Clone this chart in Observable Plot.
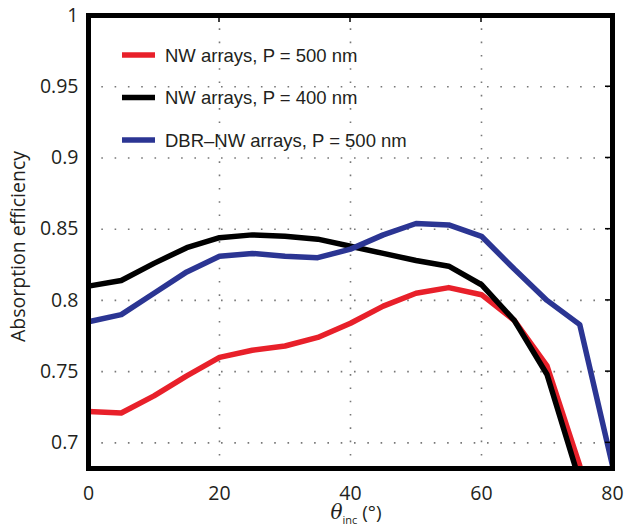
<!DOCTYPE html>
<html>
<head>
<meta charset="utf-8">
<script src="https://cdn.jsdelivr.net/npm/d3@7"></script>
<script src="https://cdn.jsdelivr.net/npm/@observablehq/plot@0.6"></script>
<style>
  html, body { margin: 0; padding: 0; background: #fff; }
</style>
</head>
<body>
<div id="chart"></div>
<script>
const angles = [0, 5, 10, 15, 20, 25, 30, 35, 40, 45, 50, 55, 60, 65, 70, 75, 80];
const redNW500 = [0.722, 0.721, 0.733, 0.747, 0.760, 0.765, 0.768, 0.774, 0.784, 0.796, 0.805, 0.809, 0.804, 0.786, 0.754, 0.684];
const blackNW400 = [0.810, 0.814, 0.826, 0.837, 0.844, 0.846, 0.845, 0.843, 0.838, 0.833, 0.828, 0.824, 0.811, 0.786, 0.748, 0.673];
const blueDBR500 = [0.785, 0.790, 0.805, 0.820, 0.831, 0.833, 0.831, 0.830, 0.836, 0.846, 0.854, 0.853, 0.845, 0.822, 0.800, 0.783, 0.684];

const seriesNames = ["NW arrays, P = 500 nm", "NW arrays, P = 400 nm", "DBR\u2013NW arrays, P = 500 nm"];
const seriesColors = ["#e8202a", "#000000", "#2b3593"];
const seriesValues = [redNW500, blackNW400, blueDBR500];

const xTicks = [0, 20, 40, 60, 80];
const yTicks = [0.7, 0.75, 0.8, 0.85, 0.9, 0.95, 1];
const yLabel = "Absorption efficiency";

const rows = [];
seriesValues.forEach((vals, s) => {
  vals.forEach((v, i) => rows.push({series: seriesNames[s], angle: angles[i], value: v}));
});

const font = "'Liberation Sans', Arial, sans-serif";
const tickFont = "'Open Sans', sans-serif";

const extras = (index, scales, values, dims) => {
  const g = d3.create("svg:g").attr("text-anchor", "start");
  const x = scales.x, y = scales.y;
  const L = dims.marginLeft, R = dims.width - dims.marginRight;
  const T = dims.marginTop, B = dims.height - dims.marginBottom;
  yTicks.slice(0, -1).forEach(t => {
    g.append("line").attr("x1", R - 7).attr("x2", R).attr("y1", y(t)).attr("y2", y(t))
      .attr("stroke", "#000").attr("stroke-width", 1.5);
  });
  xTicks.slice(1, -1).forEach(t => {
    g.append("line").attr("x1", x(t)).attr("x2", x(t)).attr("y1", T).attr("y2", T + 7)
      .attr("stroke", "#000").attr("stroke-width", 1.5);
  });
  seriesNames.forEach((name, i) => {
    const cy = T + 40 + i * 42.5;
    g.append("line").attr("x1", L + 34).attr("x2", L + 67).attr("y1", cy).attr("y2", cy)
      .attr("stroke", seriesColors[i]).attr("stroke-width", 5.5);
    g.append("text").attr("x", L + 77).attr("y", cy).attr("dy", "0.36em")
      .attr("text-anchor", "start")
      .attr("font-family", font).attr("font-size", 18.5).attr("fill", "#231f20")
      .text(name);
  });
  g.append("text")
    .attr("transform", `translate(25,${(T + B) / 2 + 5}) rotate(-90)`)
    .attr("text-anchor", "middle").attr("font-family", tickFont).attr("font-size", 19.5)
    .attr("fill", "#231f20").text(yLabel);
  const xt = g.append("text").attr("x", (L + R) / 2 + 6).attr("y", dims.height - 13)
    .attr("text-anchor", "middle").attr("font-family", tickFont).attr("font-size", 19).attr("fill", "#231f20");
  xt.append("tspan").attr("font-style", "italic").attr("font-family", "'DejaVu Serif', serif").attr("font-size", 20).text("\u03b8");
  xt.append("tspan").attr("font-size", 11).attr("dy", 5).text("inc");
  xt.append("tspan").attr("dy", -5).text(" (\u00b0)");
  return g.node();
};

const chart = Plot.plot({
  width: 627,
  height: 532,
  marginLeft: 88,
  marginRight: 15,
  marginTop: 15,
  marginBottom: 64,
  style: {fontFamily: tickFont, fontSize: "19.5px", color: "#231f20", background: "#fff"},
  x: {domain: [0, 80], ticks: xTicks, tickSize: 0, tickPadding: 18, label: null},
  y: {domain: [0.682, 1], ticks: yTicks, tickSize: 0, tickPadding: 10, label: null,
      tickFormat: d => d === 1 ? "1" : String(d)},
  color: {domain: seriesNames, range: seriesColors},
  marks: [
    Plot.gridY(yTicks.slice(0, -1), {stroke: "#777", strokeOpacity: 1, strokeWidth: 1.6, strokeDasharray: "1.6,11.7"}),
    Plot.gridX(xTicks.slice(1, -1), {stroke: "#777", strokeOpacity: 1, strokeWidth: 1.6, strokeDasharray: "1.6,11.7"}),
    Plot.line(rows, {x: "angle", y: "value", z: "series", stroke: "series", strokeWidth: 5.5, clip: true, strokeLinejoin: "round"}),
    Plot.frame({stroke: "#000", strokeWidth: 5}),
    extras
  ]
});
document.getElementById("chart").appendChild(chart);
</script>
</body>
</html>
